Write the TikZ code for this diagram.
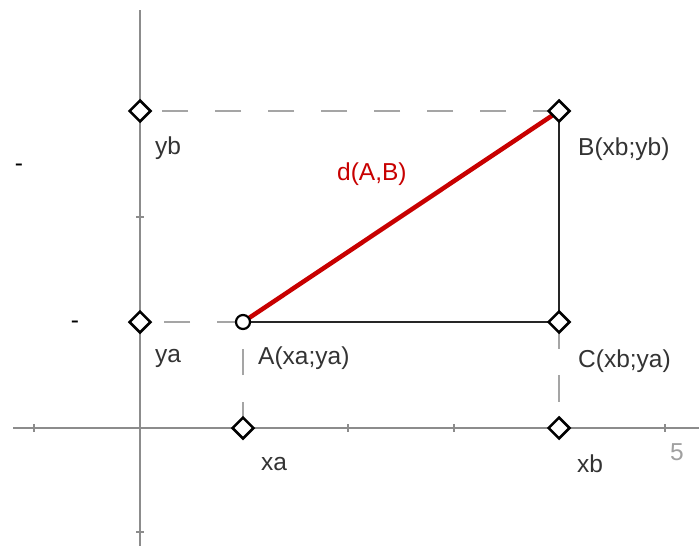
\documentclass[tikz,border=0pt]{standalone}
\usepackage{fontspec}
\setmainfont{Liberation Sans}
\usetikzlibrary{shapes.geometric,backgrounds}
\definecolor{axisgray}{RGB}{140,140,140}
\definecolor{dashgray}{RGB}{165,165,165}
\definecolor{segred}{RGB}{200,0,0}
\definecolor{numgray}{RGB}{160,160,160}
\begin{document}
\begin{tikzpicture}[x=1pt,y=-1pt,
  font=\fontsize{24.5}{28}\selectfont,
  axisline/.style={draw=axisgray,line width=2pt},
  tickline/.style={draw=axisgray,line width=1.5pt},
  dashline/.style={draw=dashgray,line width=2.3pt,dash pattern=on 26.5pt off 26.5pt},
  segline/.style={draw=black!85,line width=2.6pt},
  redline/.style={draw=segred,line width=4.5pt},
  dpoint/.style={diamond,draw=black,fill=white,line width=2.5pt,minimum size=22pt,inner sep=0pt},
  cpoint/.style={circle,draw=black,fill=white,line width=2.2pt,minimum size=14pt,inner sep=0pt},
  lbl/.style={anchor=west,inner sep=0pt,text=black!80}
]
\useasboundingbox (0,0) rectangle (699,546);

% points
\node[cpoint] (A) at (243,322) {};
\node[dpoint] (B) at (559,111) {};
\node[dpoint] (C) at (559,322) {};
\node[dpoint] (xa) at (243,428) {};
\node[dpoint] (xb) at (559,428) {};
\node[dpoint] (ya) at (140,322) {};
\node[dpoint] (yb) at (140,111) {};

\begin{pgfonlayer}{background}
  \fill[white] (0,0) rectangle (699,546);
  % axes
  \coordinate (xl) at (13,428);
  \coordinate (xr) at (699,428);
  \coordinate (yt) at (140,10);
  \coordinate (ybot) at (140,546);
  \draw[axisline] (xl) -- (xr);
  \draw[axisline] (yt) -- (ybot);
  \foreach \t in {34,348,454,665} \draw[tickline] (\t,424) -- (\t,432);
  \foreach \t in {217,532} \draw[tickline] (136,\t) -- (144,\t);
  % dashed helpers
  \draw[dashline] (B.center) -- (yb.center);
  \draw[dashline] (A.center) -- (ya.center);
  \draw[dashline] (xa.center) -- (A.center);
  \draw[dashline] (C.center) -- (xb.center);
  % triangle
  \draw[segline] (A.center) -- (C.center) -- (B.center);
  \draw[redline] (A.center) -- (B.center);
\end{pgfonlayer}

% labels
\node[lbl] (lyb) at (155,148) {yb};
\node[lbl] (lya) at (155,358) {ya};
\node[lbl] (lA) at (258,358) {A(xa;ya)};
\node[lbl] (lB) at (578,149) {B(xb;yb)};
\node[lbl] (lC) at (578,361) {C(xb;ya)};
\node[lbl] (lxa) at (261,464) {xa};
\node[lbl] (lxb) at (577,464) {xb};
\node[lbl,text=segred] (ld) at (337,174) {d(A,B)};
\node[inner sep=0pt,text=numgray] (l5) at (677,452) {5};
\node[inner sep=0pt,text=black] (m1) at (19,168) {-};
\node[inner sep=0pt,text=black] (m2) at (75,325) {-};
\end{tikzpicture}
\end{document}
